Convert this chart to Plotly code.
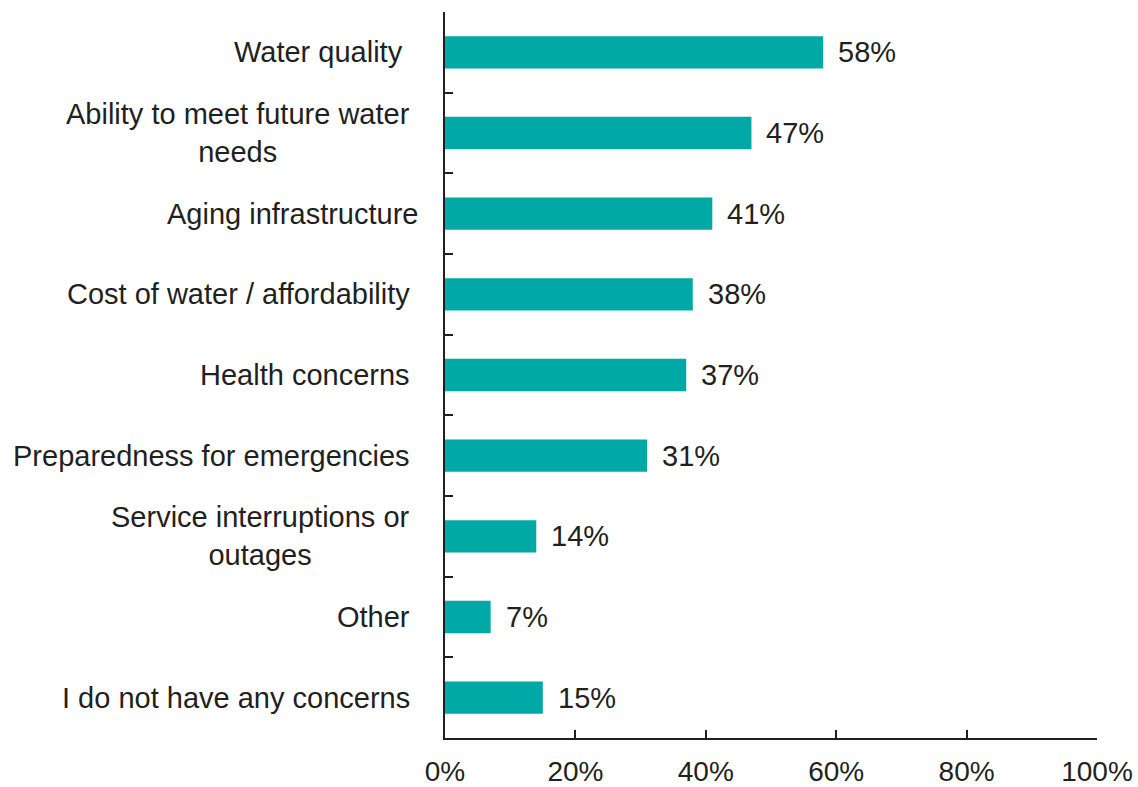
import plotly.graph_objects as go

categories = [
    "Water quality",
    "Ability to meet future water<br>needs",
    "Aging infrastructure",
    "Cost of water / affordability",
    "Health concerns",
    "Preparedness for emergencies",
    "Service interruptions or<br>outages",
    "Other",
    "I do not have any concerns",
]
values = [58, 47, 41, 38, 37, 31, 14, 7, 15]
label_shift = [-40, -33, -25, -33, -33, -33, -33, -33, -33]
x_ticks = [0, 20, 40, 60, 80, 100]

BAR = "#00A9A6"
INK = "#231F20"
FONT = "Liberation Sans, Arial, sans-serif"
SIZE = 29

fig = go.Figure(
    go.Bar(
        x=values,
        y=categories,
        orientation="h",
        marker=dict(color=BAR, line=dict(width=0)),
        width=0.4,
        hoverinfo="skip",
    )
)

annotations = []
for cat, val, sh in zip(categories, values, label_shift):
    annotations.append(dict(
        x=0, xref="paper", y=cat, yref="y",
        text=cat, showarrow=False, xanchor="right", yanchor="middle",
        align="center", xshift=sh,
        font=dict(family=FONT, size=SIZE, color=INK),
    ))
    annotations.append(dict(
        x=val, xref="x", y=cat, yref="y",
        text=f"{val}%", showarrow=False, xanchor="left", yanchor="middle",
        xshift=13,
        font=dict(family=FONT, size=SIZE, color=INK),
    ))

fig.update_layout(
    width=1138, height=787,
    margin=dict(l=445, r=41, t=12, b=49, autoexpand=False),
    paper_bgcolor="white", plot_bgcolor="white",
    showlegend=False,
    annotations=annotations,
    font=dict(family=FONT, size=SIZE, color=INK),
    xaxis=dict(
        range=[0, 100], tickvals=x_ticks, ticktext=[f"{t}%" for t in x_ticks],
        showgrid=False, zeroline=False, automargin=False,
        showline=True, linecolor=INK, linewidth=1.5,
        ticks="inside", ticklen=8, tickwidth=1.5, tickcolor=INK,
        ticklabelstandoff=8,
        tickfont=dict(family=FONT, size=28, color=INK),
    ),
    yaxis=dict(
        categoryorder="array", categoryarray=categories,
        autorange="reversed", automargin=False,
        showgrid=False, zeroline=False,
        showline=True, linecolor=INK, linewidth=1.5,
        ticks="inside", ticklen=8, tickwidth=1.5, tickcolor=INK,
        tickson="boundaries", showticklabels=False,
    ),
)

fig.write_html("out.html")
